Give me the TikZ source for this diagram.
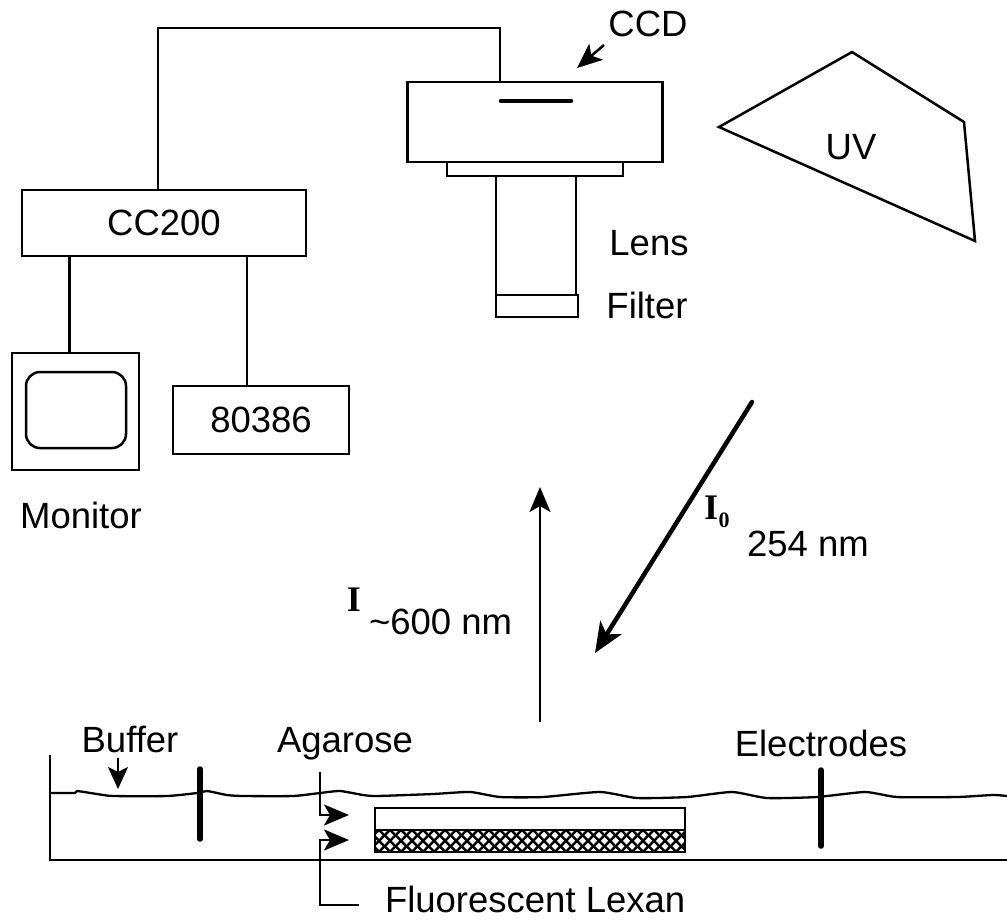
\documentclass[tikz,border=0pt]{standalone}
\usepackage{fontspec}
\setmainfont{Liberation Sans}
\newfontfamily\slabfont{Liberation Serif}
\usetikzlibrary{arrows.meta,positioning,patterns}
\pgfdeclarepatternformonly{lexanhatch}{\pgfqpoint{0pt}{0pt}}{\pgfqpoint{11pt}{11pt}}{\pgfqpoint{11pt}{11pt}}{
	\pgfsetlinewidth{2.7pt}
	\pgfpathmoveto{\pgfqpoint{-1pt}{-1pt}}
	\pgfpathlineto{\pgfqpoint{12pt}{12pt}}
	\pgfpathmoveto{\pgfqpoint{-1pt}{12pt}}
	\pgfpathlineto{\pgfqpoint{12pt}{-1pt}}
	\pgfusepath{stroke}
}
\tikzset{
    >={Stealth[length=25pt,width=21pt,inset=6pt]},
    box/.style={
           rectangle,
           draw=black, line width=2.5pt,
           fill=white,
           inner sep=0pt,
           outer sep=0pt,
           font=\fontsize{36.5}{40}\selectfont},
    lbl/.style={
           inner sep=0pt,
           outer sep=0pt,
           font=\fontsize{36.5}{40}\selectfont},
    slab/.style={
           inner sep=0pt,
           outer sep=0pt,
           font=\fontsize{36}{40}\selectfont\slabfont\bfseries},
    pil/.style={
           ->,
           line width=2.5pt},
    wire/.style={
           line width=2.5pt},
    rod/.style={
           line width=5.5pt,
           line cap=round}
}
\begin{document}
\begin{tikzpicture}[x=1pt,y=-1pt]
	\useasboundingbox (0,0) rectangle (1007,922);
	% camera
	\node[box, minimum width=255pt, minimum height=80pt] (Camera) at (535,122) {};
	\node[box, minimum width=176pt, minimum height=14pt, below = 0pt of Camera] (Flange) {};
	\node[box, minimum width=80pt, minimum height=141pt, below = 0pt of Flange, xshift=1pt] (Lens) {};
	\node[box, minimum width=82pt, minimum height=22pt, below = 119pt of Flange, xshift=2pt] (FilterBox) {};
	\node[lbl] (LensLabel) at (649,243) {Lens};
	\node[lbl] (FilterLabel) at (647,305) {Filter};
	\coordinate (ChipL) at (501,101);
	\coordinate (ChipR) at (571,101);
	\draw[line width=4.5pt, line cap=round] (ChipL) -- (ChipR);
	\node[lbl, anchor=base] (CCD) at (648,36) {CCD};
	\coordinate (CCDTail) at (604,45);
	\coordinate (CCDTip) at (577,68);
	\draw[pil] (CCDTail) -- (CCDTip);
	% computer
	\node[box, minimum width=284pt, minimum height=66pt] (CC200) at (164,223) {CC200};
	\node[box, minimum width=127pt, minimum height=117pt] (Monitor) at (75.5,411.5) {};
	\node[box, rounded corners=14pt, minimum width=100pt, minimum height=76pt] (Screen) at (76,410) {};
	\node[box, minimum width=176pt, minimum height=68pt] (Pc) at (261,420) {80386};
	\node[lbl] (MonitorLabel) at (81,515) {Monitor};
	\draw[wire] ([xshift=-6pt]Monitor.north) -- ([xshift=-6pt]Monitor.north |- CC200.south);
	\draw[wire] ([xshift=-14pt]Pc.north) -- ([xshift=-14pt]Pc.north |- CC200.south);
	\coordinate (WireTurnA) at (158,28);
	\coordinate (WireTurnB) at (500,28);
	\draw[wire] (WireTurnA |- CC200.north) -- (WireTurnA) -- (WireTurnB) -- (WireTurnB |- Camera.north);
	% lamp
	\node[lbl] (UV) at (851,147) {UV};
	\draw[wire] (719,127) -- (852,52) -- (964,122) -- (975,241) -- cycle;
	% light paths
	\coordinate (Ibot) at (540,722);
	\coordinate (Itop) at (540,487);
	\draw[pil] (Ibot) -- (Itop);
	\coordinate (Iotop) at (752,402);
	\coordinate (Iobot) at (595,653);
	\draw[->, line width=4.5pt, line cap=round, >={Stealth[length=30pt,width=25pt,inset=8pt]}] (Iotop) -- (Iobot);
	\node[slab] (ILabel) at (354,600) {I};
	\node[lbl, anchor=west] (NmA) at (369,622) {\textasciitilde 600 nm};
	\node[slab] (IoLabel) at (711,508) {I};
	\node[slab, font=\fontsize{22}{24}\selectfont\slabfont\bfseries] (IoSub) at (724,520) {0};
	\node[lbl, anchor=west] (NmB) at (747,544) {254 nm};
	% gel box
	\draw[line width=2.5pt] (50,755) -- (50,860) -- (1007,860);
	\draw[line width=2.3pt] plot[smooth, tension=.35] coordinates {(50,793) (75,793) (77,791) (97,794) (113,796) (167,796) (197,793) (207,791) (227,795) (243,796) (293,796) (320,793) (340,791) (363,795) (377,796) (433,794) (470,792) (500,797) (543,797) (600,792) (637,798) (687,797) (732,792) (767,798) (817,797) (865,792) (897,797) (957,797) (993,795) (1007,796)};
	\coordinate (RodAtop) at (200,769);
	\coordinate (RodAbot) at (200,839);
	\coordinate (RodBtop) at (821,770);
	\coordinate (RodBbot) at (821,846);
	\draw[rod] (RodAtop) -- (RodAbot);
	\draw[rod] (RodBtop) -- (RodBbot);
	\node[box, minimum width=310pt, minimum height=22pt] (Gel) at (530,819) {};
	\node[box, minimum width=310pt, minimum height=22pt, below = 0pt of Gel, pattern=lexanhatch, pattern color=black] (Lexan) {};
	% labels below
	\node[lbl, anchor=base] (Buffer) at (130,752) {Buffer};
	\node[lbl, anchor=base] (Agarose) at (345,752) {Agarose};
	\node[lbl, anchor=base] (Electrodes) at (821,756) {Electrodes};
	\node[lbl, anchor=west] (LexanLabel) at (385,899) {Fluorescent Lexan};
	\coordinate (BufTop) at (118,758);
	\coordinate (BufTip) at (118,789);
	\draw[->, line width=1.8pt, >={Stealth[length=22pt,width=20pt,inset=5pt]}] (BufTop) -- (BufTip);
	\coordinate (AgTop) at (320,772);
	\coordinate (AgTurn) at (320,815);
	\coordinate (AgTip) at (349,815);
	\draw[pil] (AgTop) -- (AgTurn) -- (AgTip);
	\coordinate (LxEnd) at (359,905);
	\coordinate (LxTurn) at (320,905);
	\coordinate (LxUp) at (320,840);
	\coordinate (LxTip) at (349,840);
	\draw[pil] (LxEnd) -- (LxTurn) -- (LxUp) -- (LxTip);
\end{tikzpicture}
\end{document}
